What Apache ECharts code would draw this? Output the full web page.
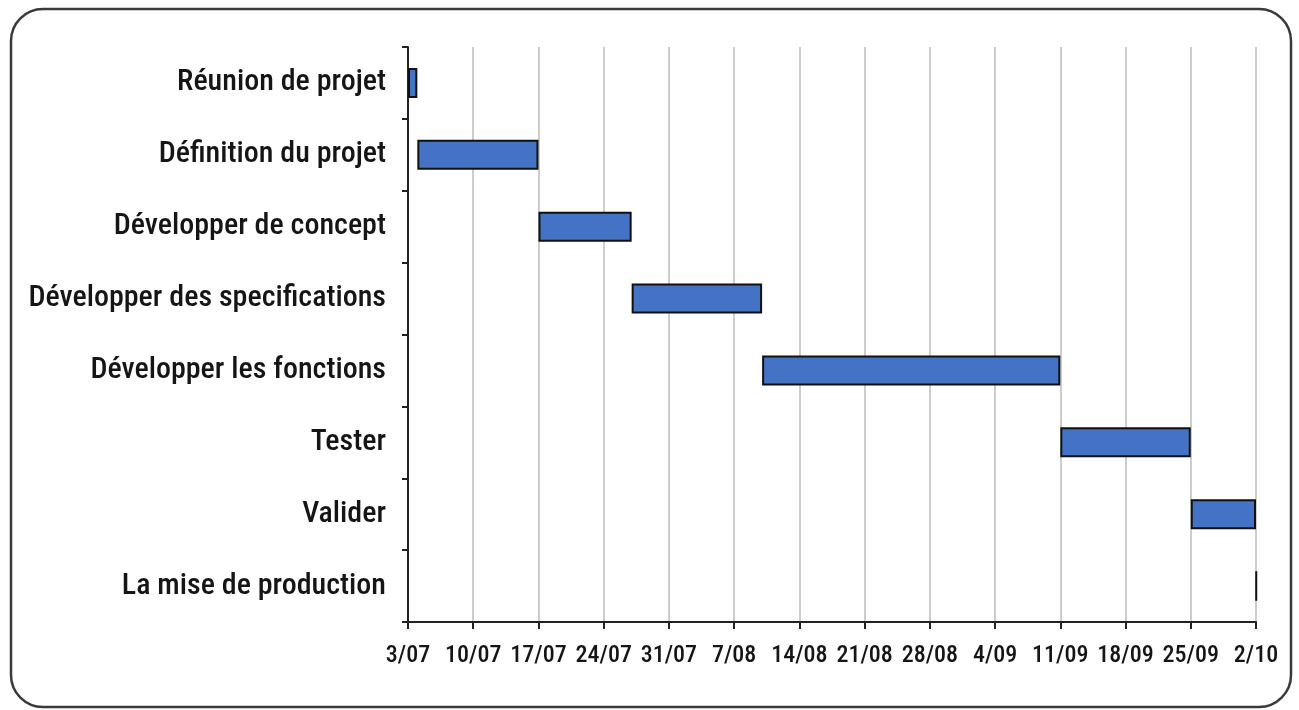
<!DOCTYPE html>
<html><head><meta charset="utf-8">
<script src="https://cdn.jsdelivr.net/npm/echarts@6/dist/echarts.min.js"></script>
<style>html,body{margin:0;padding:0;background:#fff;}#c{width:1299px;height:710px;}</style>
</head><body><div id="c"></div>
<script>
var tasks = ['Réunion de projet','Définition du projet','Développer de concept','Développer des specifications','Développer les fonctions','Tester','Valider','La mise de production'];
var startDays = [0, 1, 14, 24, 38, 70, 84, 91];
var durations = [1, 13, 10, 14, 32, 14, 7, 0.05];
var tickLabels = ['3/07','10/07','17/07','24/07','31/07','7/08','14/08','21/08','28/08','4/09','11/09','18/09','25/09','2/10'];

var font = '"Roboto Condensed","DejaVu Sans Condensed",sans-serif';
var chart = echarts.init(document.getElementById('c'));
chart.setOption({
  animation: false,
  backgroundColor: '#fff',
  graphic: [{
    type: 'rect', shape: {x: 11, y: 9, width: 1280, height: 698, r: 32},
    style: {fill: 'none', stroke: '#3a3a3a', lineWidth: 2.5}, z: -1
  }],
  grid: {left: 408, right: 43, top: 47, bottom: 88},
  xAxis: {
    type: 'value', min: 0, max: 91, interval: 7,
    axisLine: {show: true, lineStyle: {color: '#222', width: 2}},
    axisTick: {show: true, length: 7, lineStyle: {color: '#222', width: 2}},
    splitLine: {show: true, lineStyle: {color: '#bdbdbd', width: 1.5}},
    axisLabel: {
      color: '#151515', fontFamily: font, fontWeight: 500, fontSize: 24, margin: 22,
      formatter: function (v) { return tickLabels[Math.round(v / 7)]; }
    }
  },
  yAxis: {
    type: 'category', data: tasks, inverse: true,
    axisLine: {show: true, lineStyle: {color: '#222', width: 2}},
    axisTick: {show: true, length: 6, lineStyle: {color: '#222', width: 2}},
    axisLabel: {color: '#151515', fontFamily: font, fontWeight: 500, fontSize: 30, margin: 22}
  },
  series: [
    {type: 'bar', stack: 'g', data: startDays, itemStyle: {color: 'transparent'}, barWidth: 30, silent: true},
    {type: 'bar', stack: 'g', data: durations, barWidth: 30, clip: false,
     itemStyle: {color: '#4472c4', borderColor: '#111', borderWidth: 2}}
  ]
});
</script></body></html>
